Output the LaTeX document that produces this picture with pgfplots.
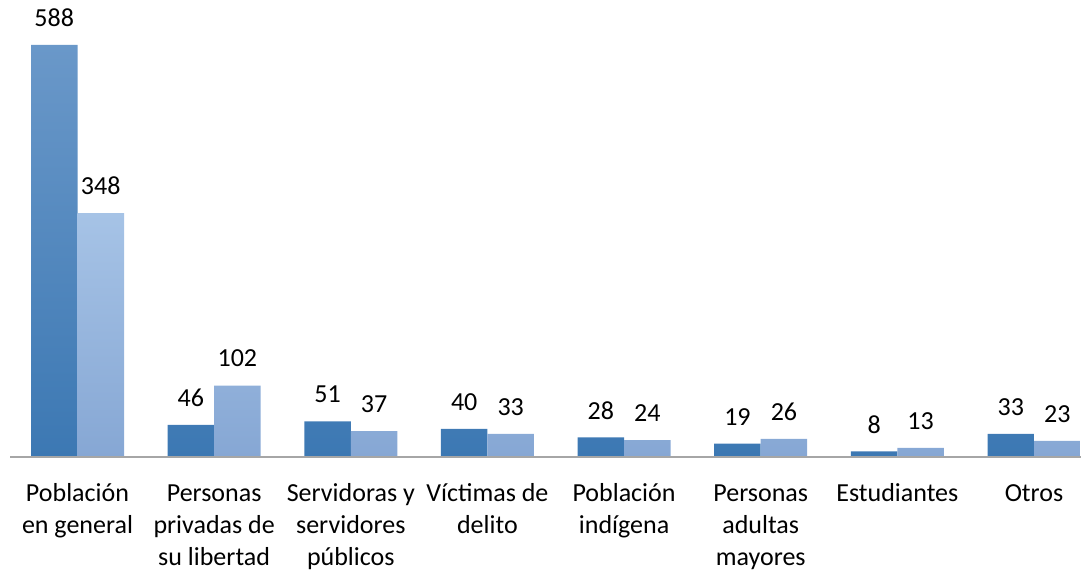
\documentclass[border=0pt]{standalone}
\usepackage{fontspec}
\setmainfont{Carlito}
\usepackage{pgfplots}
\pgfplotsset{compat=1.18}
\definecolor{dkTop}{HTML}{6A98C9}
\definecolor{dkBot}{HTML}{3C78B3}
\definecolor{ltTop}{HTML}{A6C3E6}
\definecolor{ltBot}{HTML}{86A7D4}
\definecolor{axgray}{HTML}{A6A6A6}
\begin{document}
\begin{tikzpicture}[font=\fontsize{19.5}{24}\selectfont]
\path[use as bounding box] (0,0) rectangle (818.25pt,428.25pt);
\begin{axis}[
  at={(7.5pt,85.5pt)}, anchor=south west,
  scale only axis, width=803.25pt, height=342.75pt,
  xmin=-0.494, xmax=7.344, ymin=0, ymax=652.2,
  ybar=0pt, bar width=34.875pt,
  hide y axis,
  axis x line*=bottom,
  x axis line style={-, draw=axgray, line width=1.2pt},
  xtick={0,...,7},
  xtick style={draw=none},
  xticklabels={{\strut Población\\en general},{\strut Personas\\privadas de\\su libertad},{\strut Servidoras y\\servidores\\públicos},{\strut Víctimas de\\delito},{\strut Población\\indígena},{\strut Personas\\adultas\\mayores},{\strut Estudiantes},{\strut Otros}},
  xticklabel style={align=center, anchor=north, inner sep=0pt, yshift=-12.3pt, font=\fontsize{19.5}{24}\selectfont},
  clip=false,
  axis on top,
  nodes near coords={\pgfmathprintnumber[assume math mode=true]{\pgfplotspointmeta}},
  every node near coord/.append style={anchor=center, inner sep=0pt, yshift=20.25pt, font=\fontsize{19.5}{24}\selectfont, text=black},
]
\addplot[draw=none, top color=dkTop, bottom color=dkBot] coordinates {(0,588) (1,46) (2,51) (3,40) (4,28) (5,19) (6,8) (7,33)};
\addplot[draw=none, top color=ltTop, bottom color=ltBot] coordinates {(0,348) (1,102) (2,37) (3,33) (4,24) (5,26) (6,13) (7,23)};
\end{axis}
\end{tikzpicture}
\end{document}
